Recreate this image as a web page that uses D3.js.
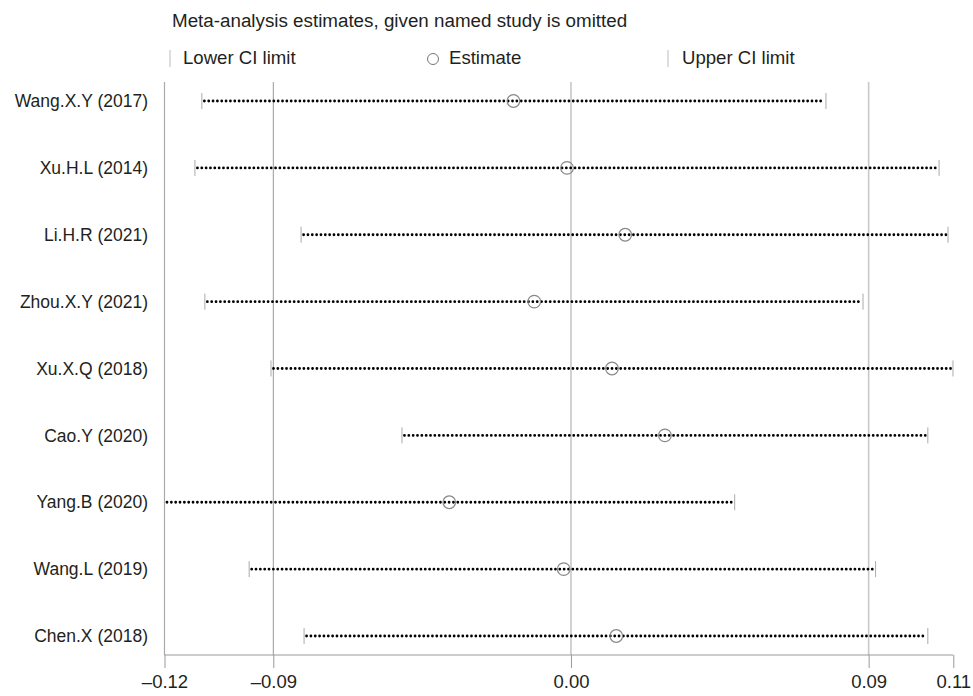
<!DOCTYPE html>
<html>
<head>
<meta charset="utf-8">
<script src="https://cdn.jsdelivr.net/npm/d3@7"></script>
<style>
  body { margin: 0; background: #fff; }
  svg { display: block; font-family: "Liberation Sans", Arial, sans-serif; }
</style>
</head>
<body>
<script>
// studies (one row each), omitted-study estimates and CI limits
const studies = ['Wang.X.Y (2017)', 'Xu.H.L (2014)', 'Li.H.R (2021)', 'Zhou.X.Y (2021)',
  'Xu.X.Q (2018)', 'Cao.Y (2020)', 'Yang.B (2020)', 'Wang.L (2019)', 'Chen.X (2018)'];
const lowerCI = [-0.1116, -0.1137, -0.0816, -0.1107, -0.0907, -0.0511, -0.1229, -0.0973, -0.0807];
const estimate = [-0.0174, -0.0012, 0.0164, -0.0111, 0.0124, 0.0284, -0.0368, -0.0022, 0.0137];
const upperCI = [0.0771, 0.1113, 0.1140, 0.0883, 0.1155, 0.1079, 0.0495, 0.0921, 0.1079];

// axis: ends are the extreme CI limits, inner lines are overall estimate + CI
const tickValues = [-0.1229, -0.09, 0, 0.09, 0.1156];
const tickLabels = ['–0.12', '–0.09', '0.00', '0.09', '0.11'];
const refLines = [-0.09, 0, 0.09];

const width = 973, height = 696;
const svg = d3.select('body').append('svg')
  .attr('width', width)
  .attr('height', height);

const x = d3.scaleLinear().domain([tickValues[0], tickValues[4]]).range([164.5, 953.3]);
const y = d3.scalePoint().domain(studies).range([101, 636]);
const axisY = 655, topY = 82;

// title + legend
svg.append('text')
  .attr('x', 172).attr('y', 27)
  .attr('font-size', 18.8).attr('fill', '#231f20')
  .text('Meta-analysis estimates, given named study is omitted');

const leg = svg.append('g').attr('font-size', 18.6).attr('fill', '#231f20');
leg.append('line').attr('x1', 170).attr('x2', 170).attr('y1', 50).attr('y2', 67)
  .attr('stroke', '#bbb');
leg.append('text').attr('x', 183).attr('y', 64).text('Lower CI limit');
leg.append('circle').attr('cx', 433).attr('cy', 59).attr('r', 5.5)
  .attr('fill', 'none').attr('stroke', '#777');
leg.append('text').attr('x', 449).attr('y', 64).text('Estimate');
leg.append('line').attr('x1', 668).attr('x2', 668).attr('y1', 50).attr('y2', 67)
  .attr('stroke', '#bbb');
leg.append('text').attr('x', 682).attr('y', 64).text('Upper CI limit');

// left frame line
svg.append('line')
  .attr('x1', x.range()[0]).attr('x2', x.range()[0])
  .attr('y1', topY).attr('y2', axisY)
  .attr('stroke', '#aaa').attr('stroke-width', 1.2);

// reference lines
svg.selectAll('.ref').data(refLines).join('line')
  .attr('class', 'ref')
  .attr('x1', d => x(d)).attr('x2', d => x(d))
  .attr('y1', topY).attr('y2', axisY)
  .attr('stroke', d => d < 0 ? '#999' : '#c8c8c8')
  .attr('stroke-width', d => d < 0 ? 1 : 1.6);

// x axis
const xAxis = svg.append('g')
  .attr('transform', 'translate(0,' + axisY + ')')
  .call(d3.axisBottom(x).tickValues(tickValues)
    .tickFormat((d, i) => tickLabels[i]).tickSize(13).tickPadding(7));
xAxis.select('.domain').attr('stroke', '#999').attr('d', 'M' + x.range()[0] + ',0H' + x.range()[1]);
xAxis.selectAll('.tick line').attr('stroke', '#999');
xAxis.selectAll('.tick text').attr('font-size', 18.5).attr('fill', '#231f20')
  .attr('font-family', '"Liberation Sans", Arial, sans-serif');

// y labels
svg.selectAll('.ylab').data(studies).join('text')
  .attr('class', 'ylab')
  .attr('x', 148).attr('y', d => y(d))
  .attr('dy', '0.35em')
  .attr('text-anchor', 'end')
  .attr('font-size', 17.5).attr('fill', '#231f20')
  .text(d => d);

const rows = studies.map((s, i) => ({ s, lo: lowerCI[i], est: estimate[i], hi: upperCI[i] }));

// dotted CI lines
svg.selectAll('.ci').data(rows).join('line')
  .attr('class', 'ci')
  .attr('x1', d => x(d.lo) + 2.5).attr('x2', d => x(d.hi) - 2)
  .attr('y1', d => y(d.s)).attr('y2', d => y(d.s))
  .attr('stroke', '#000').attr('stroke-width', 2.8)
  .attr('stroke-linecap', 'round')
  .attr('stroke-dasharray', '0.01 4.33');

// CI limit ticks
['lo', 'hi'].forEach(k => {
  svg.selectAll('.cap-' + k).data(rows).join('line')
    .attr('class', 'cap-' + k)
    .attr('x1', d => x(d[k])).attr('x2', d => x(d[k]))
    .attr('y1', d => y(d.s) - 8).attr('y2', d => y(d.s) + 8)
    .attr('stroke', '#aaa').attr('stroke-width', 1);
});

// estimates
svg.selectAll('.est').data(rows).join('circle')
  .attr('class', 'est')
  .attr('cx', d => x(d.est)).attr('cy', d => y(d.s))
  .attr('r', 6.3)
  .attr('fill', 'none').attr('stroke', '#888').attr('stroke-width', 1.2);
</script>
</body>
</html>
